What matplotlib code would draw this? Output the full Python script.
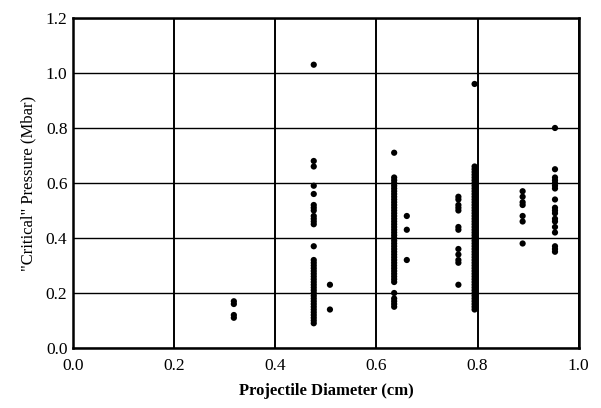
import matplotlib.pyplot as plt

# projectile diameters (cm) and the "critical" pressures (Mbar) read for each
diameters = [0.318, 0.476, 0.508, 0.635, 0.660, 0.762, 0.794, 0.889, 0.953]

p_0318 = [0.17, 0.16, 0.12, 0.11]
p_0476 = [1.03, 0.68, 0.66, 0.59, 0.56, 0.52, 0.51, 0.50, 0.48, 0.47, 0.46, 0.45,
          0.37, 0.32, 0.31, 0.30, 0.29, 0.28, 0.27, 0.26, 0.25, 0.24, 0.23, 0.22,
          0.21, 0.20, 0.19, 0.18, 0.17, 0.16, 0.15, 0.14, 0.13, 0.12, 0.11, 0.10, 0.09]
p_0508 = [0.23, 0.14]
p_0635 = [0.71, 0.62, 0.61, 0.60, 0.59, 0.58, 0.57, 0.56, 0.55, 0.54, 0.53, 0.52,
          0.51, 0.50, 0.49, 0.48, 0.47, 0.46, 0.45, 0.44, 0.43, 0.42, 0.41, 0.40,
          0.39, 0.38, 0.37, 0.36, 0.35, 0.34, 0.33, 0.32, 0.31, 0.30, 0.29, 0.28,
          0.27, 0.26, 0.25, 0.24, 0.20, 0.18, 0.17, 0.16, 0.15]
p_0660 = [0.48, 0.43, 0.32]
p_0762 = [0.55, 0.54, 0.52, 0.51, 0.50, 0.44, 0.43, 0.36, 0.34, 0.32, 0.31, 0.23]
p_0794 = [0.96, 0.66, 0.65, 0.64, 0.63, 0.62, 0.61, 0.60, 0.59, 0.58, 0.57, 0.56,
          0.55, 0.54, 0.53, 0.52, 0.51, 0.50, 0.49, 0.48, 0.47, 0.46, 0.45, 0.44,
          0.43, 0.42, 0.41, 0.40, 0.39, 0.38, 0.37, 0.36, 0.35, 0.34, 0.33, 0.32,
          0.31, 0.30, 0.29, 0.28, 0.27, 0.26, 0.25, 0.24, 0.23, 0.22, 0.21, 0.20,
          0.19, 0.18, 0.17, 0.16, 0.15, 0.14]
p_0889 = [0.57, 0.55, 0.53, 0.52, 0.48, 0.46, 0.38]
p_0953 = [0.80, 0.65, 0.62, 0.61, 0.60, 0.59, 0.58, 0.54, 0.51, 0.50, 0.49, 0.47,
          0.46, 0.44, 0.42, 0.37, 0.36, 0.35]

pressures = [p_0318, p_0476, p_0508, p_0635, p_0660, p_0762, p_0794, p_0889, p_0953]

plt.rcParams['font.family'] = ['Liberation Serif', 'DejaVu Serif']

fig = plt.figure(figsize=(6.01, 4.08), dpi=100)
ax = fig.add_axes([0.1215, 0.147, 0.8415, 0.809])

for d, p in zip(diameters, pressures):
    ax.scatter([d] * len(p), p, s=20, color='black', edgecolors='none', zorder=3)

ax.set_xlim(0, 1.0)
ax.set_ylim(0, 1.2)
ax.set_xticks([0.0, 0.2, 0.4, 0.6, 0.8, 1.0])
ax.set_yticks([0.0, 0.2, 0.4, 0.6, 0.8, 1.0, 1.2])
ax.xaxis.set_major_formatter(plt.FormatStrFormatter('%.1f'))
ax.yaxis.set_major_formatter(plt.FormatStrFormatter('%.1f'))
ax.tick_params(axis='x', length=0, labelsize=12.5, pad=7)
ax.tick_params(axis='y', length=0, labelsize=12.5, pad=4)

ax.grid(axis='x', color='black', linewidth=1.4)
ax.grid(axis='y', color='black', linewidth=1.0)
for s in ax.spines.values():
    s.set_linewidth(1.8)

ax.set_xlabel('Projectile Diameter (cm)', fontsize=12, fontweight='bold', labelpad=7)
ax.set_ylabel('"Critical" Pressure (Mbar)', fontsize=12, labelpad=7)

fig.savefig('out.png', dpi=100)
